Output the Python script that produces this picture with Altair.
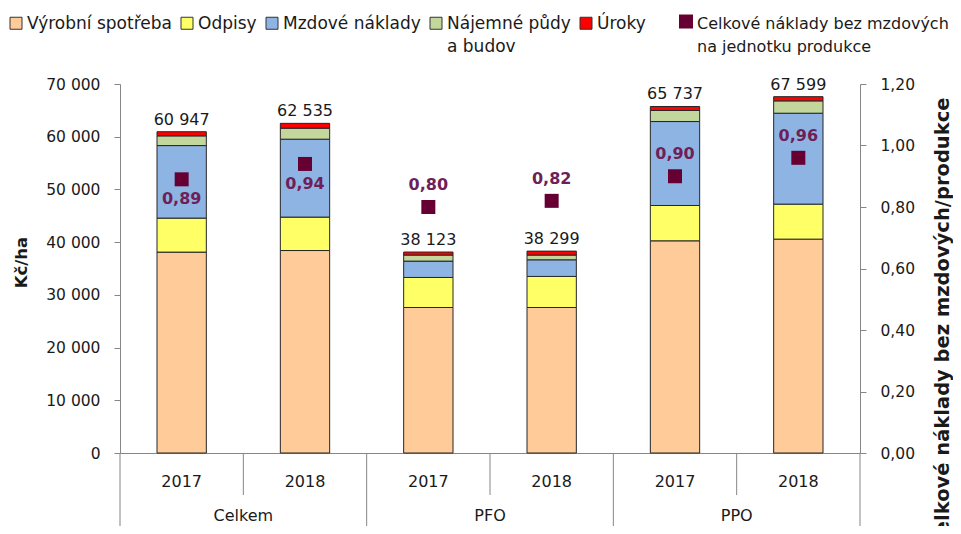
import altair as alt
import pandas as pd

# ---------------- data ----------------
groups = ["Celkem", "Celkem", "PFO", "PFO", "PPO", "PPO"]
years = ["2017", "2018", "2017", "2018", "2017", "2018"]

series = ["Výrobní spotřeba", "Odpisy", "Mzdové náklady", "Nájemné půdy a budov", "Úroky"]
colors = ["#FFCC99", "#FFFF66", "#8EB4E3", "#C3D69B", "#FF0000"]

vyrobni = [38110, 38410, 27600, 27600, 40250, 40570]
odpisy = [6450, 6340, 5700, 5900, 6700, 6640]
mzdove = [13760, 14780, 3100, 3150, 15930, 17250]
najemne = [1840, 2090, 1150, 900, 2090, 2340]
uroky = [787, 915, 573, 749, 767, 799]
totals = [60947, 62535, 38123, 38299, 65737, 67599]

ratio = [0.89, 0.94, 0.80, 0.82, 0.90, 0.96]
ratio_label_pos = ["below", "below", "above", "above", "above", "above"]
marker_name = "Celkové náklady bez mzdových na jednotku produkce"

left_ticks = [0, 10000, 20000, 30000, 40000, 50000, 60000, 70000]
right_ticks = [0, 0.2, 0.4, 0.6, 0.8, 1.0, 1.2]

# ---------------- tables ----------------
keys = [f"{g}|{y}" for g, y in zip(groups, years)]
rows = []
for i, k in enumerate(keys):
    for j, (s, vals) in enumerate(zip(series, [vyrobni, odpisy, mzdove, najemne, uroky])):
        rows.append({"key": k, "serie": s, "ord": j, "value": vals[i]})
bars_df = pd.DataFrame(rows)
info_df = pd.DataFrame({
    "key": keys, "group": groups, "year": years, "total": totals,
    "ratio": ratio, "pos": ratio_label_pos, "marker": [marker_name] * len(keys),
})

W, H = 740, 369
FONT = "DejaVu Sans"
TXT = "#1a1a1a"
GRAY = "#868686"
LABEL_PURPLE = "#6E1F58"

xscale = alt.Scale(paddingInner=0, paddingOuter=0)
x_axis = alt.Axis(
    title=None, labelExpr="split(datum.label, '|')[1]", ticks=False,
    labelPadding=20, labelFontSize=16, labelAngle=0, domainColor=GRAY,
)


def xenc(band=None):
    kw = {}
    if band is not None:
        kw["bandPosition"] = band
    return alt.X("key:N", sort=keys, scale=xscale, axis=x_axis, **kw)


left_y_scale = alt.Scale(domain=[0, 70000], nice=False)
right_y_scale = alt.Scale(domain=[0, 1.2], nice=False)

bars = alt.Chart(bars_df).mark_bar(
    stroke="#262626", strokeWidth=1, width=alt.RelativeBandSize(0.4)
).encode(
    x=xenc(),
    y=alt.Y("value:Q", stack="zero", scale=left_y_scale, axis=alt.Axis(
        title="Kč/ha", values=left_ticks,
        labelExpr="replace(format(datum.value, ','), ',', ' ')",
        tickSize=6, labelPadding=14, grid=False,
        titleFontWeight="bold", titleFontSize=16.5, titleAngle=270,
        titleAlign="center", titleBaseline="middle", titleX=-99, titleY=178,
    )),
    fill=alt.Fill("serie:N", scale=alt.Scale(domain=series, range=colors), legend=alt.Legend(
        orient="none", legendX=-112.5, legendY=-63.5, direction="horizontal", title=None,
        symbolType="M-1,-2H1V0H-1Z", symbolSize=144, symbolStrokeColor="#333333",
        symbolStrokeWidth=1, symbolOpacity=1, labelFont=FONT, labelFontSize=17,
        labelColor=TXT, labelBaseline="alphabetic", labelOffset=2.5, labelLimit=500,
        columnPadding=6, padding=0,
        labelExpr="datum.label == 'Nájemné půdy a budov' ? ['Nájemné půdy', 'a budov'] : [datum.label, '']",
    )),
    order=alt.Order("ord:Q", sort="ascending"),
)

total_text = alt.Chart(info_df).transform_calculate(
    lab="replace(format(datum.total, ','), ',', ' ')"
).mark_text(baseline="bottom", dy=-4, fontSize=16, font=FONT, color=TXT).encode(
    x=xenc(), y=alt.Y("total:Q", scale=left_y_scale), text="lab:N"
)

year_sep = alt.Chart(info_df).transform_filter("datum.year == '2018'").mark_rule(
    color=GRAY, strokeWidth=1
).encode(x=xenc(band=0), y=alt.value(H), y2=alt.value(H + 42))

group_sep = alt.Chart(info_df).transform_filter("datum.year == '2017'").mark_rule(
    color=GRAY, strokeWidth=1
).encode(x=xenc(band=0), y=alt.value(H), y2=alt.value(H + 90))

end_sep = alt.Chart(info_df).transform_filter(f"datum.key == '{keys[-1]}'").mark_rule(
    color=GRAY, strokeWidth=1
).encode(x=xenc(band=1), y=alt.value(H), y2=alt.value(H + 90))

group_text = alt.Chart(info_df).transform_filter("datum.year == '2018'").mark_text(
    fontSize=16, font=FONT, color=TXT, baseline="alphabetic"
).encode(x=xenc(band=0), y=alt.value(H + 68), text="group:N")

left = alt.layer(bars, total_text, year_sep, group_sep, end_sep, group_text)

points = alt.Chart(info_df).mark_point(shape="square", filled=True, size=196, opacity=1).encode(
    x=xenc(),
    y=alt.Y("ratio:Q", scale=right_y_scale, axis=alt.Axis(
        orient="right", title="Celkové náklady bez mzdových/produkce", values=right_ticks,
        labelExpr="replace(format(datum.value, '.2f'), '.', ',')",
        tickSize=6, labelPadding=14, grid=False,
        titleFontWeight="bold", titleFontSize=19.5, titleAngle=270,
        titleAlign="right", titleBaseline="middle", titleX=82, titleY=13,
    )),
    color=alt.Color("marker:N", scale=alt.Scale(domain=[marker_name], range=["#660033"]), legend=alt.Legend(
        orient="none", legendX=558, legendY=-63, title=None,
        symbolType="M-1,-2.07H1V-0.07H-1Z", symbolSize=196, symbolStrokeWidth=0,
        symbolOpacity=1, labelFont=FONT, labelFontSize=16, labelColor=TXT,
        labelBaseline="alphabetic", labelOffset=3, labelLimit=500, padding=0,
        labelExpr="['Celkové náklady bez mzdových', 'na jednotku produkce']",
    )),
)

ratio_lab = "replace(format(datum.ratio, '.2f'), '.', ',')"
lab_above = alt.Chart(info_df).transform_filter("datum.pos == 'above'").transform_calculate(
    lab=ratio_lab
).mark_text(baseline="middle", dy=-22, fontSize=16, fontWeight="bold", font=FONT,
            color=LABEL_PURPLE).encode(
    x=xenc(), y=alt.Y("ratio:Q", scale=right_y_scale), text="lab:N"
)
lab_below = alt.Chart(info_df).transform_filter("datum.pos == 'below'").transform_calculate(
    lab=ratio_lab
).mark_text(baseline="middle", dy=20, fontSize=16, fontWeight="bold", font=FONT,
            color=LABEL_PURPLE).encode(
    x=xenc(), y=alt.Y("ratio:Q", scale=right_y_scale), text="lab:N"
)

right = alt.layer(points, lab_above, lab_below)

chart = alt.layer(left, right).resolve_scale(y="independent").properties(
    width=W, height=H,
    autosize=alt.AutoSizeParams(type="none"),
    padding={"left": 112, "top": 76, "right": 93, "bottom": 73},
).configure(
    font=FONT,
    style={"guide-label": {"lineHeight": 23}},
).configure_view(stroke=None).configure_axis(
    labelFont=FONT, labelFontSize=15.5, labelColor=TXT, titleColor=TXT, titleFont=FONT,
    domainColor=GRAY, tickColor=GRAY,
)

chart.save("out.html", embed_options={"renderer": "svg", "actions": False})
